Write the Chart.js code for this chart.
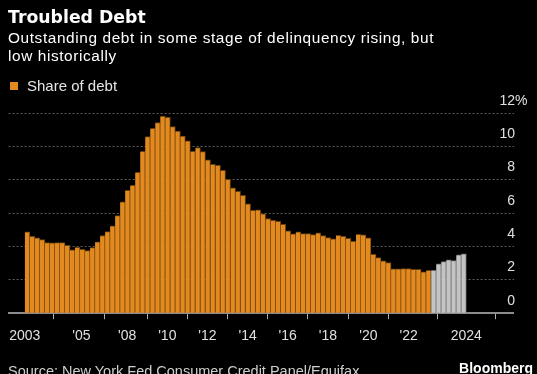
<!DOCTYPE html>
<html>
<head>
<meta charset="utf-8">
<script src="https://cdn.jsdelivr.net/npm/chart.js@4.4.1/dist/chart.umd.min.js"></script>
<style>
  html, body { margin:0; padding:0; background:#000; }
  body { width:537px; height:374px; overflow:hidden; position:relative; font-family:"Liberation Sans", Arial, sans-serif; }
  .t { position:absolute; white-space:nowrap; }
  #title { left:8px; top:7px; font-family:"DejaVu Sans", sans-serif; font-size:17.3px; line-height:20px; font-weight:bold; color:#fff; }
  #sub { left:8px; top:29.3px; font-size:15.4px; line-height:17.6px; letter-spacing:0.6px; color:#fff; }
  #legend { left:10px; top:76.7px; font-size:15px; line-height:18px; color:#e6e6e6; }
  #legend .sw { display:inline-block; width:8px; height:8px; background:#e2891f; position:absolute; left:0; top:5.5px; }
  #legend .lt { position:absolute; left:17px; top:0; }
  #source { left:8px; top:362px; font-size:14.5px; line-height:18px; color:#cfcfcf; }
  #brand { right:4px; top:359.7px; font-size:14px; line-height:16px; font-weight:bold; color:#fff; }
  #wrap { position:absolute; left:0; top:0; width:537px; height:374px; }
</style>
</head>
<body>
<div id="wrap"><canvas id="c" width="537" height="374"></canvas></div>
<div class="t" id="title">Troubled Debt</div>
<div class="t" id="sub">Outstanding debt in some stage of delinquency rising, but<br>low historically</div>
<div class="t" id="legend"><span class="sw"></span><span class="lt">Share of debt</span></div>
<div class="t" id="source">Source: New York Fed Consumer Credit Panel/Equifax</div>
<div class="t" id="brand">Bloomberg</div>
<script>
// ---- data ----
const seriesName = 'Share of debt';
const firstYear = 2003;
const lastYear = 2024;
// quarterly share of outstanding debt in some stage of delinquency (%), 2003Q1 .. 2024Q4
const shareOfDebt = [
  4.88, 4.62, 4.52, 4.42, 4.24, 4.22, 4.24, 4.24, 4.08, 3.80, 3.96, 3.84, 3.76, 3.94, 4.28, 4.66,
  4.90, 5.24, 5.86, 6.68, 7.38, 7.68, 8.46, 9.72, 10.60, 11.10, 11.44, 11.84, 11.76, 11.20, 10.94, 10.64,
  10.34, 9.72, 9.94, 9.70, 9.20, 8.94, 8.88, 8.58, 8.04, 7.52, 7.32, 7.08, 6.56, 6.18, 6.20, 5.96,
  5.68, 5.58, 5.52, 5.34, 4.94, 4.76, 4.88, 4.78, 4.78, 4.72, 4.82, 4.66, 4.54, 4.46, 4.68, 4.62,
  4.50, 4.32, 4.74, 4.70, 4.52, 3.54, 3.34, 3.14, 3.04, 2.66, 2.66, 2.68, 2.68, 2.64, 2.64, 2.48,
  2.58, 2.58, 2.96, 3.10, 3.20, 3.16, 3.50, 3.56
];
// quarters from this one on are shown in grey
const highlightStart = '2023Q2';
// x-axis tick positions (in years) and labels
const xTickValues = [2003, 2005.82, 2008.1, 2010.1, 2012.1, 2014.1, 2016.1, 2018.1, 2020.12, 2022.13, 2025];
const xTickLabels = ['2003', "'05", "'08", "'10", "'12", "'14", "'16", "'18", "'20", "'22", '2024'];
// y-axis ticks
const yTickValues = [0, 2, 4, 6, 8, 10, 12];
const yTickLabels = ['0', '2', '4', '6', '8', '10', '12'];

// ---- build ----
const categories = [];
for (let y = firstYear; y <= lastYear; y++) for (let q = 1; q <= 4; q++) categories.push(y + 'Q' + q);
const quarterPos = c => { const [y, q] = c.split('Q').map(Number); return y + (q - 1) / 4 + 0.125; };
const hiIdx = categories.indexOf(highlightStart);
const points = shareOfDebt.map((v, i) => ({ x: quarterPos(categories[i]), y: v }));

const ORANGE = '#e2891f', ORANGE_EDGE = '#6a400c';
const GREY = '#c4c4c4', GREY_EDGE = '#6e6e6e';

const yLabelPlugin = {
  id: 'yLabels',
  afterDraw(chart) {
    const ctx = chart.ctx, ys = chart.scales.y;
    ctx.save();
    ctx.font = '14px "Liberation Sans", Arial, sans-serif';
    ctx.fillStyle = '#e0e0e0';
    ctx.textBaseline = 'middle';
    const xr = chart.chartArea.right + 1.5;
    yTickValues.forEach((v, i) => {
      const py = ys.getPixelForValue(v) - 12.5;
      ctx.textAlign = 'right';
      ctx.fillText(yTickLabels[i], xr, py);
      if (i === yTickValues.length - 1) { ctx.textAlign = 'left'; ctx.fillText('%', xr, py); }
    });
    ctx.restore();
  }
};

new Chart(document.getElementById('c'), {
  type: 'bar',
  data: {
    datasets: [{
      label: seriesName,
      data: points,
      backgroundColor: ctx => ctx.dataIndex >= hiIdx ? GREY : ORANGE,
      borderColor: ctx => ctx.dataIndex >= hiIdx ? GREY_EDGE : ORANGE_EDGE,
      borderWidth: { top: 1, right: 1, left: 0, bottom: 0 },
      borderSkipped: 'start',
      barPercentage: 1,
      categoryPercentage: 1
    }]
  },
  options: {
    responsive: false,
    devicePixelRatio: 1,
    animation: false,
    layout: { padding: { left: 8, right: 23.5, top: 113.3, bottom: 20 } },
    plugins: { legend: { display: false }, tooltip: { enabled: false }, title: { display: false } },
    scales: {
      x: {
        type: 'linear',
        min: 2002.19,
        max: 2027.35,
        offset: false,
        afterBuildTicks: s => { s.ticks = xTickValues.map(v => ({ value: v })); },
        ticks: {
          autoSkip: false, maxRotation: 0, padding: 9,
          color: '#e0e0e0',
          font: { size: 14, family: '"Liberation Sans", Arial, sans-serif' },
          callback: (v, i) => xTickLabels[i]
        },
        grid: { drawOnChartArea: false, drawTicks: true, tickLength: 6, color: '#b0b0b0', lineWidth: 1 },
        border: { display: true, color: '#8c8c8c', width: 2 }
      },
      y: {
        position: 'right',
        min: 0, max: 12,
        afterBuildTicks: s => { s.ticks = yTickValues.map(v => ({ value: v })); },
        ticks: { display: false },
        grid: { drawTicks: false, color: c => c.tick && c.tick.value === 0 ? 'rgba(0,0,0,0)' : '#5e5e5e', lineWidth: 1 },
        border: { display: false, dash: [2, 2] }
      }
    }
  },
  plugins: [yLabelPlugin]
});
</script>
</body>
</html>
